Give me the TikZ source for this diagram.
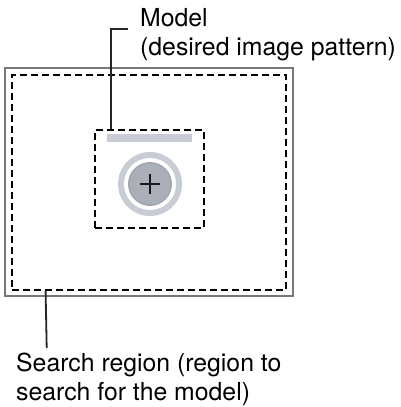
\documentclass[tikz,border=0pt]{standalone}
\usepackage{fontspec}
\setmainfont{TeX Gyre Heros}
\definecolor{ringgray}{RGB}{200,204,212}
\definecolor{diskgray}{RGB}{169,174,183}
\definecolor{diskedge}{RGB}{150,155,165}
\definecolor{framegray}{RGB}{120,120,120}
\begin{document}
\begin{tikzpicture}[x=1pt,y=-1pt,
  dashbox/.style={draw=black,line width=2.2pt,dash pattern=on 7pt off 4pt,inner sep=0pt,rectangle},
  leader/.style={draw=black!85,line width=1.8pt},
  lbl/.style={inner sep=0pt,anchor=base west,align=left,font=\fontsize{24.8}{28.4}\selectfont},
]
\useasboundingbox (0,0) rectangle (400,407);
% outer frame
\node[draw=framegray,line width=2.6pt,inner sep=0pt,minimum width=288pt,minimum height=228pt] (frame) at (149,182) {};
% search region
\node[dashbox,minimum width=274pt,minimum height=215pt] (search) at (149,182.5) {};
% model box
\node[dashbox,minimum width=109pt,minimum height=98pt] (model) at (149.5,179) {};
% bar
\node[fill=ringgray,inner sep=0pt,minimum width=85pt,minimum height=8pt] (bar) at (149.5,138) {};
% ring and disk
\node[circle,fill=ringgray,inner sep=0pt,minimum size=64pt] (ring) at (150,184) {};
\node[circle,fill=white,inner sep=0pt,minimum size=52pt] (gap) at (ring.center) {};
\node[circle,fill=diskgray,draw=diskedge,line width=0.8pt,inner sep=0pt,minimum size=43pt] (disk) at (ring.center) {};
\draw[line width=2pt,black!90] ([xshift=-10pt]disk.center) -- ([xshift=10pt]disk.center)
  ([yshift=-10pt]disk.center) -- ([yshift=10pt]disk.center);
% labels
\coordinate (mend) at (128,29);
\draw[leader] ([xshift=17pt]model.north west) |- (mend);
\node[lbl] (mlabel) at (140,55.1) {Model\\(desired image pattern)};
\coordinate (send) at (46.7,348);
\draw[leader] ([xshift=34.7pt]search.south west) -- (send);
\node[lbl] (slabel) at (16,400.1) {Search region (region to\\search for the model)};
\end{tikzpicture}
\end{document}
